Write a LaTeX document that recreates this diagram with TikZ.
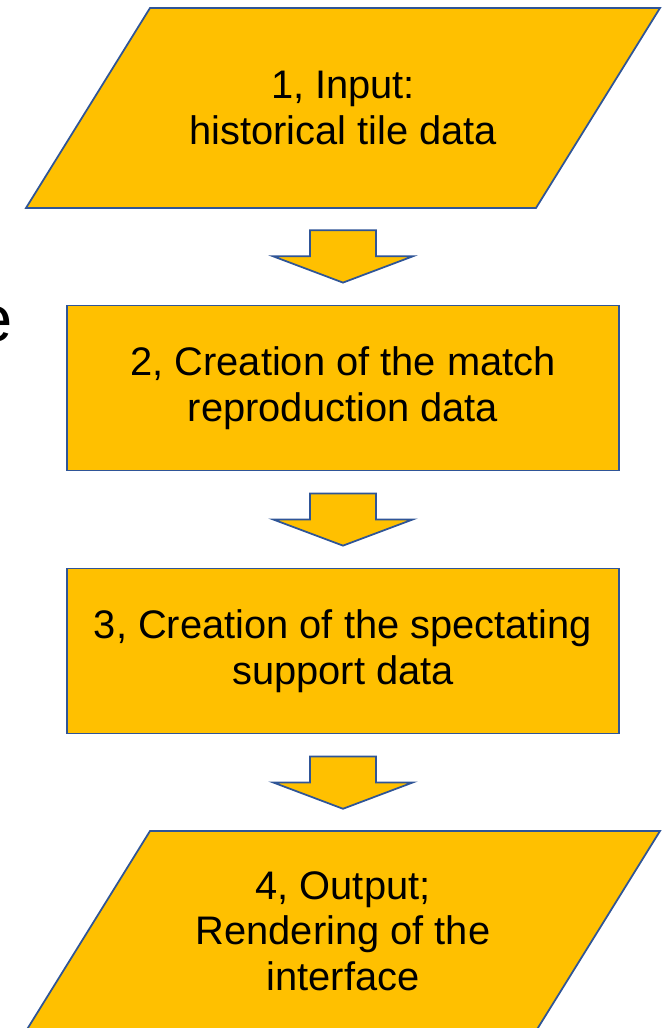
\documentclass[tikz,border=0pt]{standalone}
\usepackage{fontspec}
\setmainfont{Liberation Sans}
\usetikzlibrary{calc,backgrounds}
\definecolor{stepfill}{RGB}{255,192,0}
\definecolor{stepline}{RGB}{47,85,151}
\tikzset{
  process/.style={draw=stepline, fill=stepfill, line width=1.5pt, rectangle, minimum width=16.56cm, minimum height=4.95cm, align=center, font=\fontsize{34}{39}\selectfont},
  iotext/.style={rectangle, minimum width=15.3cm, minimum height=6cm, align=center, font=\fontsize{34}{39}\selectfont},
  iobox/.style={draw=stepline, fill=stepfill, line width=1.5pt, line join=miter},
  blockarrow/.style={draw=stepline, fill=stepfill, line width=1.5pt, line join=miter}
}
\begin{document}
\begin{tikzpicture}[x=0.03cm, y=-0.03cm]
    \useasboundingbox (0,0) rectangle (662,1028);
    \clip (0,0) rectangle (662,1028);
    \node[anchor=base east, inner sep=0pt, font=\fontsize{55.5}{60}\selectfont] (cut) at (13,341) {e};
    \node[iotext] (input) at (343,108) {1, Input:\\historical tile data};
    \node[process] (repro) at (343,388) {2, Creation of the match\\reproduction data};
    \node[process] (support) at (343,651) {3, Creation of the spectating\\support data};
    \node[iotext] (output) at (343,931) {4, Output;\\Rendering of the\\interface};
    % parallelograms behind the input/output text
    \begin{scope}[on background layer]
        \foreach \n in {input, output}
            \draw[iobox] ($(\n)+(-317,100)$) -- ++(510,0) -- ++(124,-200) -- ++(-510,0) -- cycle;
    \end{scope}
    \foreach \a/\b in {input/repro, repro/support, support/output}
        \draw[blockarrow] ($(\a.south)+(-33,22)$) -- ++(66,0) -- ++(0,26) -- ++(37,0)
            -- ($(\b.north)+(0,-22)$) -- ($(\a.south)+(-70,48)$) -- ++(37,0) -- cycle;
\end{tikzpicture}
\end{document}
